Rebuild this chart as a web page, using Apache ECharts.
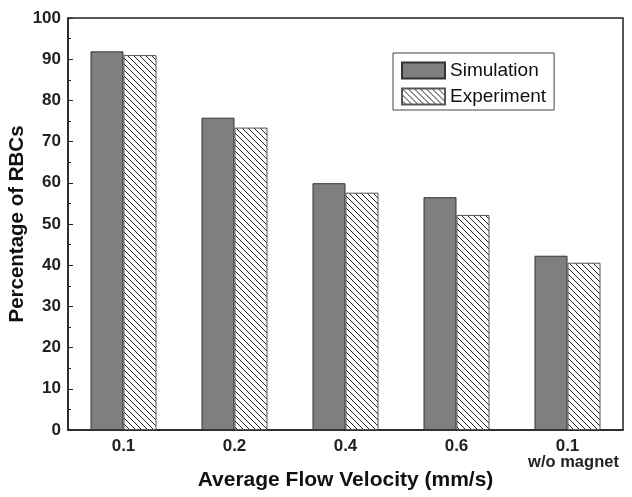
<!DOCTYPE html>
<html>
<head>
<meta charset="utf-8">
<script src="https://cdn.jsdelivr.net/npm/echarts@6/dist/echarts.min.js"></script>
<style>
  html, body { margin: 0; padding: 0; background: #fff; }
  #chart { width: 632px; height: 497px; }
</style>
</head>
<body>
<div id="chart"></div>
<script>
var categories = ['0.1', '0.2', '0.4', '0.6', '0.1\nw/o magnet'];
var simulation = [91.9, 75.8, 59.9, 56.5, 42.3];
var experiment = [91.0, 73.4, 57.6, 52.2, 40.6];
var yTicks = { min: 0, max: 100, interval: 10 };

// diagonal hatch tile for the experiment bars
function hatch() {
    var s = 6;
    var c = document.createElement('canvas');
    c.width = s; c.height = s;
    var ctx = c.getContext('2d');
    ctx.fillStyle = '#fff';
    ctx.fillRect(0, 0, s, s);
    ctx.strokeStyle = '#222';
    ctx.lineWidth = 1;
    ctx.beginPath();
    [-s, 0, s].forEach(function (k) {
        ctx.moveTo(k, 0);
        ctx.lineTo(k + s, s);
    });
    ctx.stroke();
    return c;
}

var myChart = echarts.init(document.getElementById('chart'));
var font = 'Liberation Sans, Arial, sans-serif';

var option = {
    animation: false,
    textStyle: { fontFamily: font },
    grid: {
        left: 68, top: 18, right: 9, bottom: 67,
        containLabel: false,
        outerBoundsMode: 'none',
        show: true, borderColor: '#222', borderWidth: 1.5
    },
    legend: {
        orient: 'vertical',
        left: 393, top: 53,
        padding: [8, 8, 4, 8],
        itemGap: 7,
        itemWidth: 43, itemHeight: 16,
        icon: 'rect',
        borderColor: '#444', borderWidth: 1,
        textStyle: { fontSize: 19, color: '#111', fontFamily: font },
        data: ['Simulation', 'Experiment']
    },
    xAxis: {
        type: 'category',
        data: categories,
        name: 'Average Flow Velocity (mm/s)',
        nameLocation: 'middle',
        nameGap: 40,
        nameMoveOverlap: false,
        nameTextStyle: { fontSize: 21, fontWeight: 'bold', color: '#111', fontFamily: font },
        axisLine: { lineStyle: { color: '#222', width: 1.5 } },
        axisTick: { inside: true, length: 3, lineStyle: { color: '#222' } },
        axisLabel: {
            interval: 0,
            margin: 8,
            fontSize: 17, fontWeight: 'bold', color: '#222', lineHeight: 17,
            formatter: function (v) {
                var p = v.split('\n');
                return p.length > 1 ? p[0] + '\n{sub|' + p[1] + '}' : v;
            },
            rich: { sub: { fontSize: 16.5, fontWeight: 'bold', color: '#222', lineHeight: 14, padding: [0, 0, 0, 12] } }
        }
    },
    yAxis: {
        type: 'value',
        min: yTicks.min, max: yTicks.max, interval: yTicks.interval,
        name: 'Percentage of RBCs',
        nameLocation: 'middle',
        nameGap: 40,
        nameMoveOverlap: false,
        nameTextStyle: { fontSize: 20.5, fontWeight: 'bold', color: '#111', fontFamily: font },
        axisLine: { show: true, lineStyle: { color: '#222', width: 1.5 } },
        axisTick: { show: true, inside: true, length: 5, lineStyle: { color: '#222' } },
        minorTick: { show: true, splitNumber: 2, length: 3, lineStyle: { color: '#222' } },
        splitLine: { show: false },
        axisLabel: { margin: 7, fontSize: 17, fontWeight: 'bold', color: '#222' }
    },
    series: [
        {
            name: 'Simulation',
            type: 'bar',
            barWidth: 33,
            barGap: '0%',
            data: simulation,
            itemStyle: { color: '#7f7f7f', borderColor: '#333', borderWidth: 1 }
        },
        {
            name: 'Experiment',
            type: 'bar',
            barWidth: 33,
            data: experiment,
            itemStyle: { color: { image: hatch(), repeat: 'repeat' }, borderColor: '#555', borderWidth: 1 }
        }
    ]
};

myChart.setOption(option);
</script>
</body>
</html>
